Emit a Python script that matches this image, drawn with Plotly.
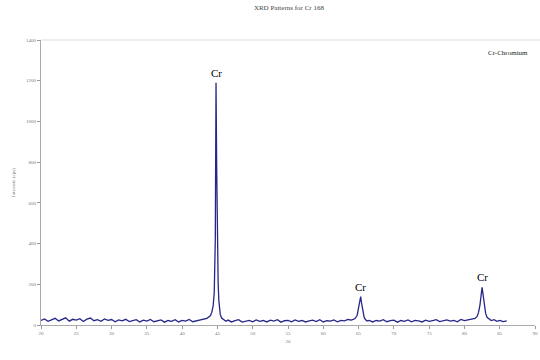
import plotly.graph_objects as go

# 2-theta (degrees) and intensity (cps)
two_theta = [
    20.0, 20.5, 21.0, 21.5, 22.0, 22.5, 23.0, 23.5, 24.0, 24.5, 25.0, 25.5, 26.0, 26.5,
    27.0, 27.5, 28.0, 28.5, 29.0, 29.5, 30.0, 30.5, 31.0, 31.5, 32.0, 32.5, 33.0, 33.5,
    34.0, 34.5, 35.0, 35.5, 36.0, 36.5, 37.0, 37.5, 38.0, 38.5, 39.0, 39.5, 40.0, 40.5,
    41.0, 41.5, 42.0, 42.5, 43.0, 43.5,
    44.0, 44.2, 44.4, 44.55, 44.7, 44.8, 44.9, 45.0, 45.1, 45.2, 45.3, 45.4, 45.6, 45.9,
    46.2, 46.5, 47.0, 47.5, 48.0, 48.5, 49.0, 49.5, 50.0, 50.5, 51.0, 51.5, 52.0, 52.5,
    53.0, 53.5, 54.0, 54.5, 55.0, 55.5, 56.0, 56.5, 57.0, 57.5, 58.0, 58.5, 59.0, 59.5,
    60.0, 60.5, 61.0, 61.5, 62.0, 62.5, 63.0, 63.5, 64.0,
    64.5, 64.8, 65.0, 65.2, 65.3, 65.4, 65.6, 65.8, 66.0, 66.2,
    66.5, 67.0, 67.5, 68.0, 68.5, 69.0, 69.5, 70.0, 70.5, 71.0, 71.5, 72.0, 72.5, 73.0,
    73.5, 74.0, 74.5, 75.0, 75.5, 76.0, 76.5, 77.0, 77.5, 78.0, 78.5, 79.0, 79.5, 80.0,
    80.5, 81.0, 81.5,
    81.8, 82.0, 82.2, 82.4, 82.5, 82.6, 82.8, 83.0, 83.2, 83.5,
    83.8, 84.2, 84.6, 85.0, 85.5, 86.0,
]
intensity = [
    22, 30, 18, 27, 33, 20, 26, 35, 19, 28, 24, 31, 17, 29,
    34, 21, 26, 18, 30, 23, 27, 16, 25, 20, 28, 17, 22, 26,
    15, 24, 19, 27, 16, 21, 25, 14, 22, 18, 26, 15, 23, 19,
    27, 16, 21, 24, 28, 33,
    45, 62, 95, 160, 420, 1190, 760, 280, 210, 120, 75, 52, 34, 25,
    18, 24, 15, 21, 26, 14, 20, 23, 16, 25, 18, 22, 15, 24,
    19, 26, 14, 21, 23, 16, 25, 18, 22, 15, 20, 24, 17, 26,
    15, 21, 19, 25, 16, 23, 20, 27, 24,
    32, 48, 85, 128, 140, 112, 62, 36, 26, 20,
    23, 15, 22, 19, 26, 16, 21, 24, 14, 22, 18, 25, 16, 23,
    20, 15, 24, 18, 22, 26, 17, 21, 25, 19, 23, 16, 27, 22,
    25, 28, 32,
    42, 62, 98, 150, 185, 160, 92, 58, 38, 28,
    22, 26, 18, 23, 17, 20,
]

peak_x = [44.8, 65.3, 82.5]
peak_y = [1190, 140, 185]
peak_label = ["Cr", "Cr", "Cr"]

x_ticks = [20, 25, 30, 35, 40, 45, 50, 55, 60, 65, 70, 75, 80, 85, 90]
y_ticks = [0, 200, 400, 600, 800, 1000, 1200, 1400]

fig = go.Figure()
fig.add_trace(go.Scatter(
    x=two_theta, y=intensity, mode="lines",
    line=dict(color="#26268a", width=1.3),
    hoverinfo="skip", showlegend=False,
))

for px, py, lab in zip(peak_x, peak_y, peak_label):
    fig.add_annotation(x=px, y=py, text=lab, showarrow=False, yshift=10,
                       font=dict(family="Liberation Serif", size=11, color="#000000"))

fig.add_annotation(xref="paper", yref="paper", x=0.99, y=0.975, xanchor="right", yanchor="top",
                   text="Cr-Chromium", showarrow=False,
                   font=dict(family="Liberation Serif", size=7, color="#222222"))

serif = "Liberation Serif"
fig.update_layout(
    width=540, height=360,
    margin=dict(l=41, r=5, t=40, b=35),
    paper_bgcolor="white", plot_bgcolor="white",
    title=dict(text="XRD Patterns for Cr 168", x=0.535, xanchor="center", y=0.985, yanchor="top",
               font=dict(family=serif, size=7, color="#444444")),
    xaxis=dict(range=[20, 90], tickmode="array", tickvals=x_ticks, automargin=False,
               ticks="outside", ticklen=3, tickcolor="#999999",
               showline=True, linecolor="#aaaaaa", linewidth=1, mirror=False,
               showgrid=False, zeroline=False,
               tickfont=dict(family=serif, size=5, color="#777777"),
               title=dict(text="2θ", font=dict(family=serif, size=5, color="#777777"), standoff=4)),
    yaxis=dict(range=[0, 1400], tickmode="array", tickvals=y_ticks, automargin=False,
               ticks="outside", ticklen=3, tickcolor="#999999",
               showline=True, linecolor="#aaaaaa", linewidth=1, mirror=False,
               showgrid=False, zeroline=False,
               tickfont=dict(family=serif, size=5, color="#777777"),
               title=dict(text="Intensity (cps)", font=dict(family=serif, size=5, color="#777777"), standoff=10)),
)
fig.add_shape(type="line", xref="paper", yref="paper", x0=0, x1=1.01, y0=1, y1=1,
              line=dict(color="#dddddd", width=1))

fig.write_html("out.html", config={"displayModeBar": False},
               post_script="document.body.style.margin='0';")
